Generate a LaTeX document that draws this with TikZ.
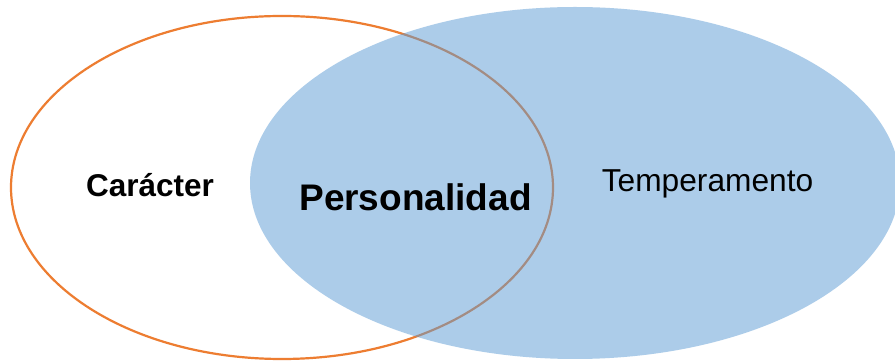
\documentclass[tikz,border=0pt]{standalone}
\usepackage{fontspec}
\setmainfont{Liberation Sans}
\definecolor{orangeline}{HTML}{ED7D31}
\definecolor{bluefill}{HTML}{5B9BD5}
\begin{document}
\begin{tikzpicture}[x=1pt,y=1pt,
  label/.style={inner sep=0pt, anchor=base, text=black},
  venn1/.style={draw=orangeline, line width=2.2pt},
  venn2/.style={fill=bluefill, fill opacity=0.5, draw=none}]
\useasboundingbox (0,0) rectangle (895,361);
\clip (0,0) rectangle (895,361);
\fill[white] (0,0) rectangle (895,361);
% Carácter circle
\draw[venn1] (282,173.5) ellipse [x radius=271, y radius=171.5];
% Temperamento circle
\fill[venn2] (575,178) ellipse [x radius=325, y radius=176];
\node[label, font=\fontsize{31.5}{38}\selectfont\bfseries] (car) at (150,164) {Carácter};
\node[label, font=\fontsize{37}{44}\selectfont\bfseries] (per) at (415.5,150.5) {Personalidad};
\node[label, font=\fontsize{31.7}{38}\selectfont] (tem) at (707.5,169) {Temperamento};
\end{tikzpicture}
\end{document}
